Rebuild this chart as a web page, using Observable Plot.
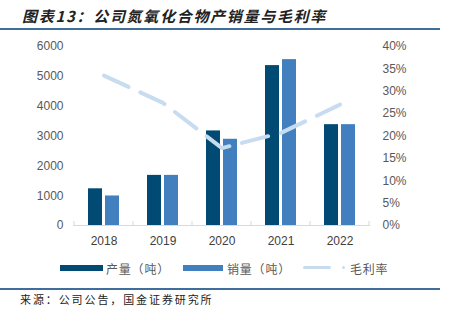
<!DOCTYPE html>
<html><head><meta charset="utf-8">
<script src="https://cdn.jsdelivr.net/npm/d3@7"></script>
<script src="https://cdn.jsdelivr.net/npm/@observablehq/plot@0.6"></script>
<style>
body{margin:0;background:#fff;}
#wrap{position:relative;width:452px;height:327px;overflow:hidden;font-family:"Liberation Sans",Arial,sans-serif;}
#title{position:absolute;left:22px;top:6px;font-family:"Noto Sans CJK SC",sans-serif;font-weight:bold;font-style:italic;font-size:15px;letter-spacing:1.7px;color:#222;white-space:nowrap;line-height:20px;}
.hr{position:absolute;left:0;width:440px;height:2px;background:#3f6d9c;}
#chart{position:absolute;left:0;top:30px;}
.lg{position:absolute;top:260px;font-family:"Noto Sans CJK SC",sans-serif;font-size:12px;letter-spacing:0.8px;color:#595959;line-height:18px;white-space:nowrap;}
.sw{position:absolute;}
#src{position:absolute;left:20px;top:291px;font-family:"Noto Sans CJK SC",sans-serif;font-size:11px;letter-spacing:1.9px;color:#222;line-height:16px;white-space:nowrap;}
</style></head><body>
<div id="wrap">
<div id="title">图表13：公司氮氧化合物产销量与毛利率</div>
<div class="hr" style="top:28px"></div>
<div id="chart"></div>
<div id="legend"></div>
<div class="hr" style="top:288px"></div>
<div id="src">来源：公司公告，国金证券研究所</div>
</div>
<script>
const years = ["2018", "2019", "2020", "2021", "2022"];
const output = [1230, 1680, 3170, 5360, 3380];   // 产量（吨）
const sales = [990, 1680, 2890, 5560, 3380];      // 销量（吨）
const grossMargin = [33.5, 27.4, 17.3, 20.7, 27.0]; // 毛利率 %
const leftTicks = [0, 1000, 2000, 3000, 4000, 5000, 6000];
const rightTicks = [0, 5, 10, 15, 20, 25, 30, 35, 40];
const seriesNames = ["产量（吨）", "销量（吨）", "毛利率"];

const C_DARK = "#004a73", C_LIGHT = "#417fbe", C_LINE = "#c8dcf0";
const ratio = 6000 / 40;

function bandTicks(index, scales, values, dims) {
  const x = scales.x, y = scales.y;
  const bw = typeof x.bandwidth === "function" ? x.bandwidth() : (dims.width - dims.marginLeft - dims.marginRight) / years.length;
  const g = d3.create("svg:g").attr("stroke", "#d9d9d9").attr("stroke-width", 1);
  const xs = years.map(v => x(v)).concat([x(years[years.length - 1]) + bw]);
  const y0 = y(0);
  xs.forEach(px => g.append("line").attr("x1", px).attr("x2", px).attr("y1", y0).attr("y2", y0 - 4));
  return g.node();
}

const plot = Plot.plot({
  width: 452,
  height: 230,
  marginTop: 16,
  marginBottom: 35,
  marginLeft: 73,
  marginRight: 82,
  style: {fontFamily: "'Liberation Sans', Arial, sans-serif", fontSize: "12px", background: "transparent"},
  x: {type: "band", domain: years, padding: 0},
  y: {domain: [0, 6000]},
  marks: [
    Plot.axisY(leftTicks, {anchor: "left", tickSize: 0, tickPadding: 10, color: "#595959", label: null, fontSize: 12, tickFormat: d => String(d)}),
    Plot.axisY(rightTicks.map(t => t * ratio), {anchor: "right", tickSize: 0, tickPadding: 12, color: "#595959", label: null, fontSize: 12, tickFormat: d => Math.round(d / ratio) + "%"}),
    Plot.axisX({tickSize: 0, tickPadding: 11, color: "#404040", label: null, fontSize: 12}),
    Plot.barY(years, {x: d => d, y: (d, i) => output[i], fill: C_DARK, insetLeft: 14, insetRight: 31}),
    Plot.barY(years, {x: d => d, y: (d, i) => sales[i], fill: C_LIGHT, insetLeft: 31, insetRight: 14}),
    Plot.ruleY([0], {stroke: "#d9d9d9"}),
    bandTicks,
    Plot.lineY(years, {x: d => d, y: (d, i) => grossMargin[i] * ratio, stroke: C_LINE, strokeWidth: 4, strokeDasharray: "27,13"})
  ]
});
document.getElementById("chart").appendChild(plot);

// legend
const lg = document.getElementById("legend");
function add(html) { lg.insertAdjacentHTML("beforeend", html); }
add(`<div class="sw" style="left:60px;top:265px;width:43px;height:6px;background:${C_DARK}"></div>`);
add(`<div class="lg" style="left:106px">${seriesNames[0]}</div>`);
add(`<div class="sw" style="left:183px;top:265px;width:40px;height:6px;background:${C_LIGHT}"></div>`);
add(`<div class="lg" style="left:227px">${seriesNames[1]}</div>`);
add(`<div class="sw" style="left:303px;top:266px;width:28px;height:3px;border-radius:2px;background:${C_LINE}"></div>`);
add(`<div class="sw" style="left:342px;top:266px;width:3px;height:3px;border-radius:2px;background:${C_LINE}"></div>`);
add(`<div class="lg" style="left:350px">${seriesNames[2]}</div>`);
</script>
</body></html>
